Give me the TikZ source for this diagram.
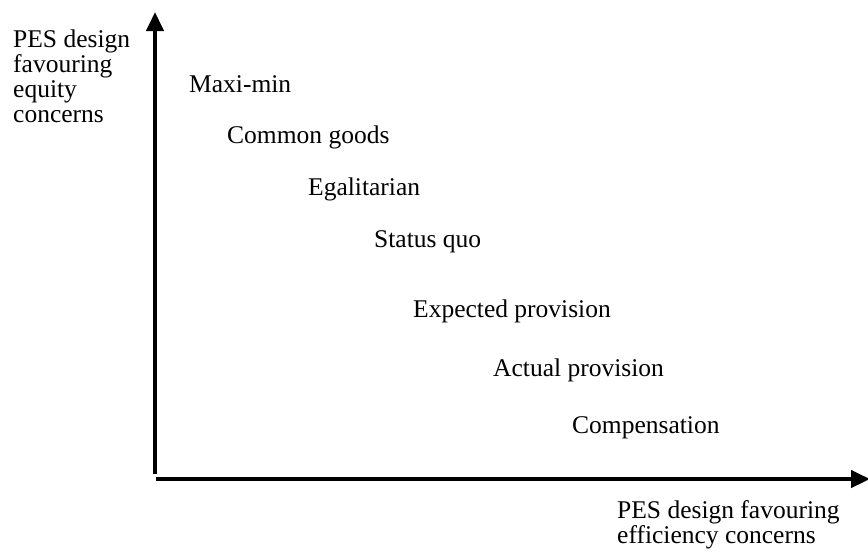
\documentclass[tikz,border=0pt]{standalone}
\usepackage{fontspec}
\setmainfont{Liberation Serif}
\usetikzlibrary{arrows.meta}
\tikzset{
  lbl/.style={anchor=base west, inner sep=0pt, font=\fontsize{25.5}{25}\selectfont},
  mlbl/.style={lbl, align=left},
  axis/.style={line width=4.5pt, -{Triangle[length=19pt,width=17pt]}}
}
\begin{document}
\begin{tikzpicture}[x=1pt,y=-1pt]
\useasboundingbox (0,0) rectangle (868,555);
\clip (0,0) rectangle (868,555);
\coordinate (o1) at (155,474);
\coordinate (ytip) at (155,12);
\coordinate (o2) at (156,479);
\coordinate (xtip) at (870,479);
\draw[axis] (o1) -- (ytip);
\draw[axis] (o2) -- (xtip);
\node[mlbl] (ylab) at (13,122) {PES design\\favouring\\equity\\concerns};
\node[mlbl] (xlab) at (617,543) {PES design favouring\\efficiency concerns};
\node[lbl] (maximin) at (189,92) {Maxi-min};
\node[lbl] (common) at (227,143) {Common goods};
\node[lbl] (egal) at (308,195) {Egalitarian};
\node[lbl] (status) at (374,247) {Status quo};
\node[lbl] (expected) at (413,317) {Expected provision};
\node[lbl] (actual) at (493,376) {Actual provision};
\node[lbl] (comp) at (572,433) {Compensation};
\end{tikzpicture}
\end{document}
